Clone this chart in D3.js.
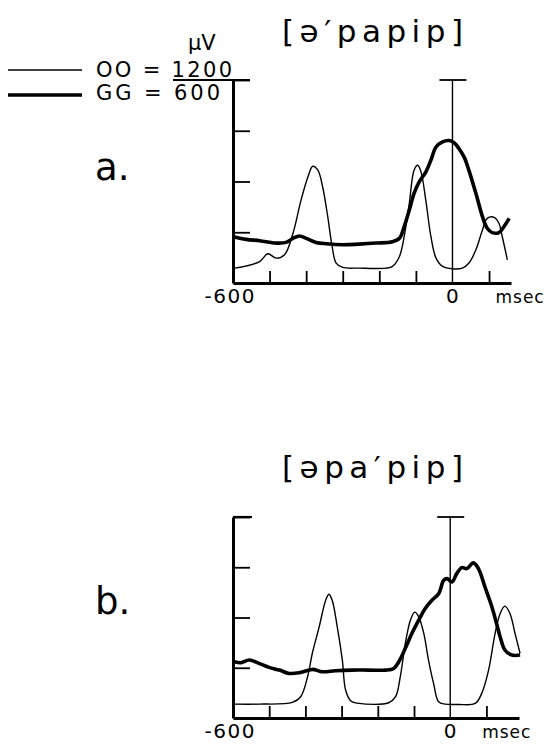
<!DOCTYPE html>
<html lang="en">
<head>
  <meta charset="UTF-8">
  <title>[ə′papip] / [əpa′pip] EMG traces</title>
  <style>
    html,
    body {
      margin: 0;
      padding: 0;
      background: #fff;
    }

    svg text {
      font-family: "DejaVu Sans", sans-serif;
      fill: #000;
    }
  </style>
</head>
<body>
<div id="chart"></div>

<script src="https://d3js.org/d3.v7.min.js"></script>
<script>
  // time in msec, amplitude in µV (OO full scale 1200, GG full scale 600)
  const aThin = [
    [-595, 88], [-527, 127], [-505, 173], [-482, 147], [-459, 167], [-436, 294],
    [-414, 490], [-395, 628], [-382, 690], [-368, 667], [-355, 569], [-341, 392],
    [-329, 216], [-318, 118], [-300, 92], [-255, 88], [-182, 88], [-164, 98],
    [-145, 157], [-132, 275], [-118, 471], [-105, 667], [-95, 696], [-86, 657],
    [-73, 490], [-59, 275], [-45, 147], [-27, 98], [0, 84], [27, 88], [45, 118],
    [64, 196], [82, 314], [95, 382], [114, 388], [127, 353], [136, 275], [150, 137]
  ];
  const aThick = [
    [-598, 137], [-564, 129], [-527, 125], [-482, 118], [-455, 120], [-436, 132],
    [-418, 139], [-400, 132], [-373, 120], [-345, 116], [-300, 113], [-255, 115],
    [-209, 118], [-164, 122], [-145, 132], [-132, 167], [-118, 216], [-105, 265],
    [-91, 299], [-73, 328], [-59, 363], [-45, 402], [-27, 417], [-9, 421], [5, 414],
    [18, 397], [32, 372], [45, 333], [64, 265], [82, 196], [95, 162], [109, 149],
    [127, 149], [141, 167], [155, 191]
  ];
  const bThin = [
    [-596, 83], [-528, 83], [-436, 93], [-413, 127], [-394, 246], [-381, 385],
    [-362, 544], [-344, 703], [-335, 739], [-326, 703], [-312, 544], [-298, 346],
    [-289, 167], [-275, 103], [-252, 87], [-170, 91], [-151, 127], [-138, 246],
    [-124, 445], [-110, 584], [-98, 632], [-87, 604], [-73, 505], [-60, 346],
    [-46, 207], [-32, 97], [-14, 83], [23, 81], [69, 87], [87, 147], [106, 286],
    [124, 505], [138, 624], [151, 668], [165, 624], [179, 505], [193, 385]
  ];
  const bThick = [
    [-596, 168], [-578, 165], [-555, 173], [-528, 163], [-500, 151], [-472, 143],
    [-445, 133], [-417, 135], [-381, 145], [-353, 138], [-317, 141], [-271, 143],
    [-225, 143], [-179, 143], [-156, 148], [-142, 168], [-124, 208], [-106, 252],
    [-87, 292], [-69, 327], [-50, 352], [-32, 371], [-18, 411], [-9, 416], [5, 406],
    [18, 431], [32, 449], [46, 446], [64, 463], [78, 446], [96, 391], [115, 332],
    [128, 282], [138, 242], [151, 203], [170, 188], [193, 188]
  ];

  const xTicks = [-500, -400, -300, -200, -100, 100];
  const ooTicks = [300, 600, 900, 1200];
  const ooMax = 1200;
  const ggMax = 600;
  const titles = ['[ə′papip]', '[əpa′pip]'];
  const letters = ['a.', 'b.'];

  const width = 555;
  const height = 749;

  const svg = d3.select('#chart').append('svg')
    .attr('width', width)
    .attr('height', height)
    .attr('viewBox', [0, 0, width, height]);

  const panels = [
    { thin: aThin, thick: aThick, tEnd: 160, x1: 511, top: 80, bottom: 283,
      titleY: 42, letterY: 180, msecDx: 43 },
    { thin: bThin, thick: bThick, tEnd: 190, x1: 519, top: 517, bottom: 718,
      titleY: 478, letterY: 614, msecDx: 32 },
  ];

  panels.forEach((p, i) => {
    const x = d3.scaleLinear([-600, p.tEnd], [233, p.x1]);
    const yOO = d3.scaleLinear([0, ooMax], [p.bottom, p.top]);
    const yGG = d3.scaleLinear([0, ggMax], [p.bottom, p.top]);

    const g = svg.append('g');

    // left axis, ticks pointing inward
    const yAxis = g.append('g')
      .attr('transform', `translate(${x(-600)},0)`)
      .call(d3.axisRight(yOO).tickValues(ooTicks).tickSize(17).tickSizeOuter(0).tickFormat(''));
    yAxis.select('.domain').attr('stroke-width', 3);
    yAxis.selectAll('.tick line').attr('stroke-width', 1.8);

    // bottom axis, ticks pointing up
    const xAxis = g.append('g')
      .attr('transform', `translate(0,${yOO(0)})`)
      .call(d3.axisTop(x).tickValues(xTicks).tickSize(12).tickSizeOuter(0).tickFormat(''));
    xAxis.select('.domain').attr('stroke-width', 3);
    xAxis.selectAll('.tick line').attr('stroke-width', 1.8);

    // zero line with T bar
    g.append('line')
      .attr('x1', x(0)).attr('x2', x(0))
      .attr('y1', yOO(0)).attr('y2', yOO(ooMax))
      .attr('stroke', '#000').attr('stroke-width', 1.4);
    g.append('line')
      .attr('x1', x(0) - 13).attr('x2', x(0) + 14)
      .attr('y1', yOO(ooMax)).attr('y2', yOO(ooMax))
      .attr('stroke', '#000').attr('stroke-width', 1.8);

    const line = yScale => d3.line()
      .x(d => x(d[0]))
      .y(d => yScale(d[1]))
      .curve(d3.curveCatmullRom.alpha(0.5));

    g.append('path')
      .datum(p.thin)
      .attr('d', line(yOO))
      .attr('fill', 'none')
      .attr('stroke', '#000')
      .attr('stroke-width', 1.4);

    g.append('path')
      .datum(p.thick)
      .attr('d', line(yGG))
      .attr('fill', 'none')
      .attr('stroke', '#000')
      .attr('stroke-width', 3.6)
      .attr('stroke-linejoin', 'round');

    // axis labels
    const labelY = yOO(0) + 20;
    g.append('text')
      .attr('x', x(-600) + 23).attr('y', labelY)
      .attr('text-anchor', 'end')
      .attr('font-size', 20)
      .attr('letter-spacing', 1.5)
      .text('-600');
    g.append('text')
      .attr('x', x(0)).attr('y', labelY)
      .attr('text-anchor', 'middle')
      .attr('font-size', 20)
      .text('0');
    g.append('text')
      .attr('x', x(0) + p.msecDx).attr('y', labelY)
      .attr('font-size', 17)
      .attr('letter-spacing', 1)
      .text('msec');

    // title and panel letter
    svg.append('text')
      .attr('x', 282).attr('y', p.titleY)
      .attr('font-size', 31)
      .attr('textLength', 181)
      .attr('lengthAdjust', 'spacing')
      .text(titles[i]);
    svg.append('text')
      .attr('x', 95).attr('y', p.letterY)
      .attr('font-size', 37)
      .text(letters[i]);

    if (i === 1) {
      // top tick of panel b
      g.append('line')
        .attr('x1', x(-600)).attr('x2', x(-600) + 19)
        .attr('y1', yOO(ooMax)).attr('y2', yOO(ooMax))
        .attr('stroke', '#000').attr('stroke-width', 2.2);
    } else {
      // scale fraction bar under "1200", joining the axis top
      g.append('line')
        .attr('x1', 173).attr('x2', x(-600) + 17)
        .attr('y1', yOO(ooMax)).attr('y2', yOO(ooMax))
        .attr('stroke', '#000').attr('stroke-width', 2.2);
    }
  });

  // legend
  const legend = svg.append('g');
  legend.append('line')
    .attr('x1', 8).attr('x2', 82).attr('y1', 70).attr('y2', 70)
    .attr('stroke', '#000').attr('stroke-width', 1.6);
  legend.append('line')
    .attr('x1', 8).attr('x2', 82).attr('y1', 95).attr('y2', 95)
    .attr('stroke', '#000').attr('stroke-width', 3.6);
  legend.append('text')
    .attr('x', 96).attr('y', 77)
    .attr('font-size', 21)
    .attr('textLength', 136)
    .attr('lengthAdjust', 'spacing')
    .text(`OO = ${ooMax}`);
  legend.append('text')
    .attr('x', 96).attr('y', 100)
    .attr('font-size', 21)
    .attr('textLength', 124)
    .attr('lengthAdjust', 'spacing')
    .text(`GG = ${ggMax}`);
  legend.append('text')
    .attr('x', 188).attr('y', 50)
    .attr('font-size', 21)
    .text('µV');
</script>
</body>
</html>
